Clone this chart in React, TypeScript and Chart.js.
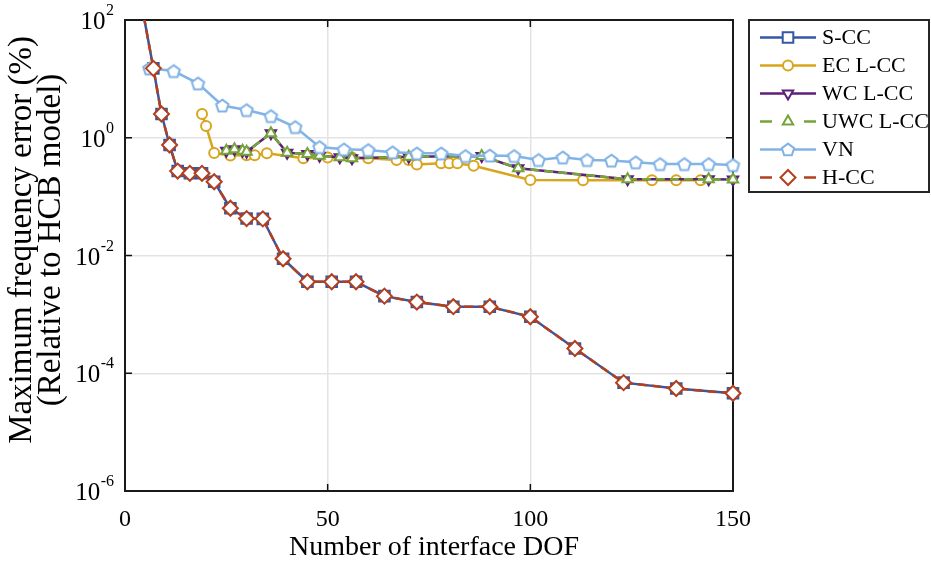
import React, { useEffect, useRef } from 'react';
import { Chart, registerables } from 'chart.js';

Chart.register(...registerables);

// ---------------- data ----------------
const xSCC = [4, 7, 9, 11, 13, 16, 19, 22, 26, 30, 34, 39, 45, 51, 57, 64, 72, 81, 90, 100, 111, 123, 136, 150];
const ySCC = [200, 15.1, 2.53, 0.753, 0.272, 0.249, 0.249, 0.179, 0.0634, 0.0424, 0.0419, 0.0088, 0.00358, 0.00358, 0.00358, 0.00204, 0.00162, 0.00135, 0.00135, 0.00091, 0.000263, 0.0000692, 0.000055, 0.0000457];

const xHCC = [4, 7, 9, 11, 13, 16, 19, 22, 26, 30, 34, 39, 45, 51, 57, 64, 72, 81, 90, 100, 111, 123, 136, 150];
const yHCC = [200, 15.1, 2.53, 0.753, 0.272, 0.249, 0.249, 0.179, 0.0634, 0.0424, 0.0419, 0.0088, 0.00358, 0.00358, 0.00358, 0.00204, 0.00162, 0.00135, 0.00135, 0.00091, 0.000263, 0.0000692, 0.000055, 0.0000457];

const xEC = [19, 20, 22, 26, 30, 32, 35, 44, 50, 56, 60, 67, 70, 72, 78, 80, 82, 86, 100, 113, 130, 136, 142];
const yEC = [2.53, 1.58, 0.55, 0.5, 0.505, 0.505, 0.544, 0.45, 0.46, 0.46, 0.45, 0.42, 0.42, 0.35, 0.368, 0.368, 0.368, 0.335, 0.191, 0.19, 0.19, 0.19, 0.19];

const xWC = [25, 27, 29, 30, 36, 40, 45, 48, 53, 56, 70, 88, 97, 124, 144, 150];
const yWC = [0.6, 0.637, 0.6, 0.58, 1.19, 0.557, 0.53, 0.495, 0.466, 0.448, 0.477, 0.49, 0.303, 0.197, 0.197, 0.195];

const xUWC = [25, 27, 29, 30, 36, 40, 45, 48, 53, 56, 70, 88, 97, 124, 144, 150];
const yUWC = [0.6, 0.637, 0.6, 0.58, 1.19, 0.557, 0.53, 0.495, 0.466, 0.448, 0.477, 0.49, 0.303, 0.197, 0.197, 0.195];

const xVN = [6, 12, 18, 24, 30, 36, 42, 48, 54, 60, 66, 72, 78, 84, 90, 96, 102, 108, 114, 120, 126, 132, 138, 144, 150];
const yVN = [15.1, 13.6, 8.4, 3.53, 2.96, 2.34, 1.52, 0.695, 0.636, 0.619, 0.566, 0.544, 0.544, 0.49, 0.5, 0.49, 0.419, 0.465, 0.419, 0.41, 0.383, 0.358, 0.358, 0.358, 0.344];

const seriesNames = ['S-CC', 'EC L-CC', 'WC L-CC', 'UWC L-CC', 'VN', 'H-CC'];
const xTicks = [0, 50, 100, 150];
const yTickValues = [100, 1, 1e-2, 1e-4, 1e-6];
const yTickExponents = ['2', '0', '-2', '-4', '-6'];
const xTitle = 'Number of interface DOF';
const yTitle = ['Maximum frequency error (%)', '(Relative to HCB model)'];

// ---------------- styles ----------------
const FONT = '"Liberation Serif", "Times New Roman", serif';
const C_SCC = '#3457a6';
const C_EC = '#d8a51d';
const C_WC = '#5e1f7a';
const C_UWC = '#76a33a';
const C_VN = '#80b3e6';
const C_HCC = '#b2401e';
const DASH = [9, 5];

function pts(xs: number[], ys: number[]) {
  return xs.map((x, i) => ({ x, y: ys[i] }));
}

function pentagonPath(ctx: CanvasRenderingContext2D, cx: number, cy: number, r: number) {
  ctx.beginPath();
  for (let i = 0; i < 5; i++) {
    const a = -Math.PI / 2 + (i * 2 * Math.PI) / 5;
    const px = cx + r * Math.cos(a);
    const py = cy + r * Math.sin(a);
    if (i === 0) ctx.moveTo(px, py);
    else ctx.lineTo(px, py);
  }
  ctx.closePath();
}

function makePentagon(color: string, r: number, lw: number) {
  const size = Math.ceil(2 * r + lw + 4);
  const c = document.createElement('canvas');
  c.width = size;
  c.height = size;
  const ctx = c.getContext('2d')!;
  pentagonPath(ctx, size / 2, size / 2 + r * 0.1, r);
  ctx.fillStyle = '#fff';
  ctx.fill();
  ctx.lineWidth = lw;
  ctx.strokeStyle = color;
  ctx.stroke();
  return c;
}

function drawMarker(ctx: CanvasRenderingContext2D, kind: string, x: number, y: number, color: string) {
  ctx.save();
  ctx.lineWidth = 2;
  ctx.strokeStyle = color;
  ctx.fillStyle = '#fff';
  ctx.setLineDash([]);
  ctx.beginPath();
  if (kind === 'rect') {
    const s = 5.3;
    ctx.rect(x - s, y - s, 2 * s, 2 * s);
  } else if (kind === 'circle') {
    ctx.arc(x, y, 5, 0, Math.PI * 2);
  } else if (kind === 'tri' || kind === 'triDown') {
    const r = 6;
    const sgn = kind === 'tri' ? 1 : -1;
    for (let i = 0; i < 3; i++) {
      const a = (i * 2 * Math.PI) / 3;
      const px = x + Math.sin(a) * r;
      const py = y - sgn * Math.cos(a) * r;
      if (i === 0) ctx.moveTo(px, py);
      else ctx.lineTo(px, py);
    }
    ctx.closePath();
  } else if (kind === 'pent') {
    pentagonPath(ctx, x, y + 0.6, 6.5);
  } else if (kind === 'diamond') {
    const r = 7.5;
    ctx.moveTo(x, y - r);
    ctx.lineTo(x + r, y);
    ctx.lineTo(x, y + r);
    ctx.lineTo(x - r, y);
    ctx.closePath();
  }
  ctx.fill();
  ctx.stroke();
  ctx.restore();
}

const framePlugin = {
  id: 'frame',
  beforeDatasetsDraw(chart: any) {
    const { ctx, chartArea } = chart;
    const { left, right, top, bottom } = chartArea;
    const xs = chart.scales.x;
    const ys = chart.scales.y;
    ctx.save();
    ctx.strokeStyle = '#111';
    ctx.lineWidth = 1.5;
    ctx.setLineDash([]);
    ctx.beginPath();
    for (const v of yTickValues) {
      const py = ys.getPixelForValue(v);
      ctx.moveTo(left, py);
      ctx.lineTo(left + 7, py);
      ctx.moveTo(right, py);
      ctx.lineTo(right - 7, py);
    }
    for (const v of xTicks) {
      const px = xs.getPixelForValue(v);
      ctx.moveTo(px, bottom);
      ctx.lineTo(px, bottom - 7);
      ctx.moveTo(px, top);
      ctx.lineTo(px, top + 7);
    }
    ctx.stroke();
    ctx.lineWidth = 2;
    ctx.strokeStyle = '#1a1a1a';
    ctx.strokeRect(left, top, right - left, bottom - top);
    ctx.restore();
  },
  afterDraw(chart: any) {
    const { ctx } = chart;
    const ys = chart.scales.y;
    ctx.save();
    ctx.fillStyle = '#000';
    ctx.textAlign = 'right';
    ctx.textBaseline = 'alphabetic';
    yTickValues.forEach((v, i) => {
      const py = ys.getPixelForValue(v);
      const exp = yTickExponents[i];
      ctx.font = `16px ${FONT}`;
      const ew = ctx.measureText(exp).width;
      ctx.fillText(exp, 114, py - 5);
      ctx.font = `25px ${FONT}`;
      ctx.fillText('10', 114 - ew - 0.5, py + 9);
    });

    // axis titles
    ctx.fillStyle = '#000';
    ctx.textAlign = 'center';
    ctx.textBaseline = 'middle';
    ctx.font = `28px ${FONT}`;
    ctx.fillText(xTitle, 434, 548);
    ctx.save();
    ctx.translate(22, 240);
    ctx.rotate(-Math.PI / 2);
    ctx.font = `33px ${FONT}`;
    ctx.fillText(yTitle[0], 0, 0);
    ctx.fillText(yTitle[1], 0, 29);
    ctx.restore();

    // legend
    const bx = 749, by = 20, bw = 180, bh = 172;
    ctx.fillStyle = '#fff';
    ctx.fillRect(bx, by, bw, bh);
    ctx.lineWidth = 2;
    ctx.strokeStyle = '#262626';
    ctx.strokeRect(bx, by, bw, bh);
    const entries = [
      { color: C_SCC, kind: 'rect', dashed: false },
      { color: C_EC, kind: 'circle', dashed: false },
      { color: C_WC, kind: 'triDown', dashed: false },
      { color: C_UWC, kind: 'tri', dashed: true },
      { color: C_VN, kind: 'pent', dashed: false },
      { color: C_HCC, kind: 'diamond', dashed: true },
    ];
    entries.forEach((e, i) => {
      const y = 37.5 + i * 28;
      ctx.strokeStyle = e.color;
      ctx.lineWidth = 2.5;
      ctx.setLineDash([]);
      ctx.beginPath();
      if (e.dashed) {
        ctx.moveTo(760, y);
        ctx.lineTo(772, y);
        ctx.moveTo(804, y);
        ctx.lineTo(816, y);
      } else {
        ctx.moveTo(760, y);
        ctx.lineTo(816, y);
      }
      ctx.stroke();
      drawMarker(ctx, e.kind, 788, y, e.color);
      ctx.fillStyle = '#000';
      ctx.font = `22px ${FONT}`;
      ctx.textAlign = 'left';
      ctx.textBaseline = 'middle';
      ctx.fillText(seriesNames[i], 822, y + 1);
    });
    ctx.restore();
  },
};

export default function App() {
  const ref = useRef<HTMLCanvasElement>(null);
  useEffect(() => {
    const canvas = ref.current;
    if (!canvas) return;
    const pentVN = makePentagon(C_VN, 6.5, 2);
    const clip = { left: 12, top: 0, right: 12, bottom: 12 };
    const common = {
      borderWidth: 2.5,
      pointBorderWidth: 2,
      pointBackgroundColor: '#fff',
      tension: 0,
      fill: false,
      clip,
    };
    const chart = new Chart(canvas, {
      type: 'line',
      data: {
        datasets: [
          {
            ...common,
            label: seriesNames[0],
            data: pts(xSCC, ySCC),
            borderColor: C_SCC,
            pointBorderColor: C_SCC,
            pointStyle: 'rect',
            pointRadius: 7.5,
            order: 6,
          },
          {
            ...common,
            label: seriesNames[1],
            data: pts(xEC, yEC),
            borderColor: C_EC,
            pointBorderColor: C_EC,
            pointStyle: 'circle',
            pointRadius: 5,
            order: 5,
          },
          {
            ...common,
            label: seriesNames[2],
            data: pts(xWC, yWC),
            borderColor: C_WC,
            pointBorderColor: C_WC,
            pointStyle: 'triangle',
            pointRotation: 180,
            pointRadius: 6,
            order: 4,
          },
          {
            ...common,
            label: seriesNames[3],
            data: pts(xUWC, yUWC),
            borderColor: C_UWC,
            pointBorderColor: C_UWC,
            borderDash: DASH,
            pointStyle: 'triangle',
            pointRadius: 6,
            order: 3,
          },
          {
            ...common,
            label: seriesNames[4],
            data: pts(xVN, yVN),
            borderColor: C_VN,
            pointBorderColor: C_VN,
            pointStyle: pentVN as any,
            pointRadius: 7,
            order: 2,
          },
          {
            ...common,
            label: seriesNames[5],
            data: pts(xHCC, yHCC),
            borderColor: C_HCC,
            pointBorderColor: C_HCC,
            borderDash: DASH,
            pointStyle: 'rectRot',
            pointRadius: 7.5,
            order: 1,
          },
        ] as any,
      },
      options: {
        animation: false,
        responsive: false,
        devicePixelRatio: 1,
        events: [],
        layout: { padding: { left: 0, top: 20, right: 198, bottom: 0 } },
        plugins: {
          legend: { display: false },
          tooltip: { enabled: false },
        },
        scales: {
          x: {
            type: 'linear',
            min: 0,
            max: 150,
            afterBuildTicks: (s: any) => {
              s.ticks = xTicks.map((v) => ({ value: v }));
            },
            afterFit: (s: any) => {
              s.height = 71;
            },
            ticks: {
              color: '#000',
              font: { family: FONT, size: 24 },
              padding: 14,
              maxRotation: 0,
            },
            grid: { color: '#e3e3e3', lineWidth: 1.5, drawTicks: false },
            border: { display: false },
            title: { display: false },
          },
          y: {
            type: 'logarithmic',
            min: 1e-6,
            max: 100,
            afterBuildTicks: (s: any) => {
              s.ticks = yTickValues.map((v) => ({ value: v }));
            },
            afterFit: (s: any) => {
              s.width = 125;
            },
            ticks: { display: false },
            grid: { color: '#e3e3e3', lineWidth: 1.5, drawTicks: false },
            border: { display: false },
            title: { display: false },
          },
        },
      } as any,
      plugins: [framePlugin],
    });
    return () => chart.destroy();
  }, []);
  return (
    <div style={{ position: 'absolute', left: 0, top: 0, width: 931, height: 562, background: '#fff' }}>
      <canvas ref={ref} width={931} height={562} style={{ width: 931, height: 562, display: 'block' }} />
    </div>
  );
}
